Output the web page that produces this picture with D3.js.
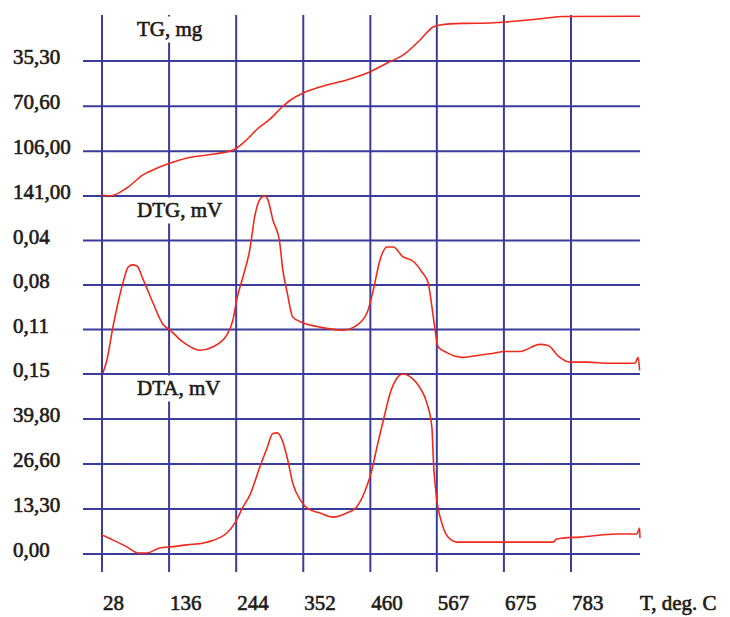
<!DOCTYPE html>
<html>
<head>
<meta charset="utf-8">
<script src="https://cdn.jsdelivr.net/npm/d3@7"></script>
<style>
  body { margin: 0; background: #fff; }
  text { font-family: "Liberation Serif", "Times New Roman", serif; fill: #1e1a16; }
</style>
</head>
<body>
<div id="chart"></div>
<script>
// temperature ticks, deg. C
const tTicks = [28, 136, 244, 352, 460, 567, 675, 783];
const tEnd = 894;

// left axis labels, one group per curve
const tgTickVals = [35.3, 70.6, 106.0, 141.0];
const tgTickLabels = ["35,30", "70,60", "106,00", "141,00"];
const dtgTickVals = [0.0375, 0.075, 0.1125, 0.15];
const dtgTickLabels = ["0,04", "0,08", "0,11", "0,15"];
const dtaTickVals = [39.9, 26.6, 13.3, 0];
const dtaTickLabels = ["39,80", "26,60", "13,30", "0,00"];

// TG, mg  [T, value]
const tgData = [[28,140.2],[41,141],[68,134.7],[94,124.5],[117,119.1],[138,115.2],[165,111.2],[197,108.9],
  [239,105],[255,99.5],[266,94.5],[278,88.5],[298,81],[318,71.3],[334,65],[352,60.3],[379,55.6],[422,50.1],
  [459,43.9],[487,36.8],[513,30.5],[540,18.8],[561,8.6],[572,7],[609,5.8],[653,5.5],[669,5],[677,4.7],
  [714,3.1],[744,1.6],[770,0.4],[894,0.2]];

// DTG, mV
const dtgData = [[29.6,0.149],[36,0.138],[45.7,0.110],[53.8,0.090],[61.8,0.073],[69.9,0.060],[76.3,0.058],
  [84.3,0.059],[94,0.070],[110,0.090],[126,0.108],[137.5,0.113],[158,0.123],[186,0.130],[207,0.127],
  [229,0.117],[239,0.104],[245,0.087],[255,0.068],[266,0.045],[274,0.017],[282,0.003],[290,0],[295,0.003],
  [303,0.020],[314,0.039],[319,0.062],[326,0.081],[335,0.102],[352,0.107],[374,0.110],[395,0.112],
  [416,0.113],[438,0.109],[455,0.098],[464,0.081],[476,0.053],[487,0.043],[497,0.043],[512,0.051],
  [529,0.055],[543,0.064],[553,0.073],[559,0.093],[564,0.112],[569,0.127],[583,0.132],[609,0.136],
  [637,0.134],[653,0.133],[677,0.131],[701,0.131],[733,0.125],[746,0.126],[765,0.136],[781,0.140],
  [809,0.140],[846,0.141],[886,0.141],[891,0.136],[893.5,0.147]];

// DTA, mV
const dtaData = [[28,5.6],[46,4.1],[68,2.1],[86,0.3],[100,0.3],[121,1.8],[137.5,2.1],[165,2.7],[197,3.5],
  [229,6.2],[242,9.2],[255,13.9],[266,17.4],[282,25.7],[294,31.5],[303,35.6],[310,35.8],
  [319,33.2],[327,27.8],[335,21],[347,16],[358,13.6],[379,12.1],[400,10.9],[422,12.1],[438,13.9],
  [452,18.9],[462,24.5],[471,31.9],[481,39.6],[492,47.6],[503,52],[512,53.2],[527,52],[540,49.1],
  [551,44.6],[559,37.5],[562,25.7],[567,16],[575,9.2],[585,5],[600,3.5],[653,3.5],[754,3.5],[760,4.4],
  [770,4.7],[797,5],[857,5.9],[889,5.9],[893.5,7.7],[894,4.7]];

const width = 730;
const height = 617;
const gridColor = "#3b3b9c";
const curveColor = "#ef2a1c";
const inkColor = "#1e1a16";

const svg = d3.select("#chart")
    .append("svg")
    .attr("width", width)
    .attr("height", height);

const xScale = d3.scaleLinear().domain([28, 783]).range([102, 571]);

// one band per curve
const tgScale = d3.scaleLinear().domain([0, 141]).range([16, 196]);
const dtgScale = d3.scaleLinear().domain([0, 0.15]).range([196, 374]);
const dtaScale = d3.scaleLinear().domain([0, 53.2]).range([554, 374]);

const rows = [];
tgTickVals.forEach((v, i) => rows.push({y: tgScale(v), label: tgTickLabels[i]}));
dtgTickVals.forEach((v, i) => rows.push({y: dtgScale(v), label: dtgTickLabels[i]}));
dtaTickVals.forEach((v, i) => rows.push({y: dtaScale(v), label: dtaTickLabels[i]}));

//grid
const grid = svg.append("g").attr("stroke", gridColor).attr("stroke-width", 2);
grid.selectAll(".hline")
    .data(rows)
    .join("line")
    .attr("x1", 83)
    .attr("x2", xScale(tEnd))
    .attr("y1", d => d.y)
    .attr("y2", d => d.y);
grid.selectAll(".vline")
    .data(tTicks)
    .join("line")
    .attr("x1", d => xScale(d))
    .attr("x2", d => xScale(d))
    .attr("y1", 15)
    .attr("y2", 572);

//curve titles sit on white boxes that cut the grid
const titles = [
    {text: "TG, mg", top: tgScale(0) - 1},
    {text: "DTG, mV", top: dtgScale(0)},
    {text: "DTA, mV", top: dtaScale(53.2)}
];
titles.forEach(t => {
    svg.append("rect")
        .attr("x", 136)
        .attr("y", t.top + 1.5)
        .attr("width", 91)
        .attr("height", 26)
        .attr("fill", "#fff");
    svg.append("text")
        .attr("x", 137)
        .attr("y", t.top + 21)
        .attr("font-size", "21px")
        .attr("stroke", inkColor)
        .attr("stroke-width", 0.6)
        .text(t.text);
});

//left labels
svg.selectAll(".ylab")
    .data(rows)
    .join("text")
    .attr("x", 13)
    .attr("y", d => d.y + 3)
    .attr("font-size", "21px")
    .attr("stroke", inkColor)
    .attr("stroke-width", 0.6)
    .text(d => d.label);

//bottom labels
svg.selectAll(".xlab")
    .data(tTicks)
    .join("text")
    .attr("x", d => xScale(d) + 1)
    .attr("y", 610)
    .attr("font-size", "21px")
    .attr("stroke", inkColor)
    .attr("stroke-width", 0.6)
    .text(d => d);
svg.append("text")
    .attr("x", xScale(tEnd))
    .attr("y", 610)
    .attr("font-size", "21px")
    .attr("stroke", inkColor)
    .attr("stroke-width", 0.6)
    .text("T, deg. C");

//curves
const curves = [
    {data: tgData, y: tgScale},
    {data: dtgData, y: dtgScale},
    {data: dtaData, y: dtaScale}
];
curves.forEach(c => {
    const makeLine = d3.line()
        .curve(d3.curveMonotoneX)
        .x(d => xScale(d[0]))
        .y(d => c.y(d[1]));
    svg.append("path")
        .attr("fill", "none")
        .attr("stroke", curveColor)
        .attr("stroke-width", 1.6)
        .attr("stroke-linejoin", "round")
        .attr("d", makeLine(c.data));
});
</script>
</body>
</html>
